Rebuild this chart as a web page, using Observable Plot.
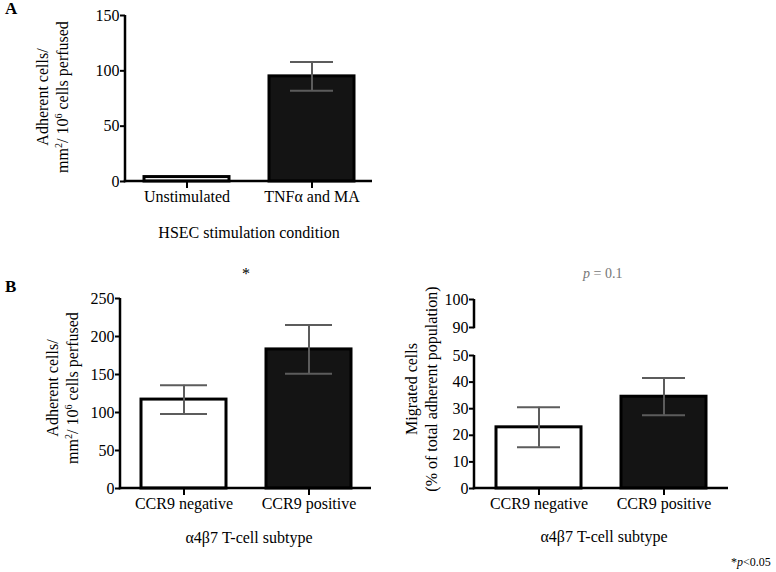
<!DOCTYPE html>
<html><head><meta charset="utf-8">
<script src="https://cdn.jsdelivr.net/npm/d3@7"></script>
<script src="https://cdn.jsdelivr.net/npm/@observablehq/plot@0.6"></script>
<style>
body{margin:0;background:#fff}
#wrap{position:relative;width:776px;height:572px;font-family:"Liberation Serif","Times New Roman",Times,"DejaVu Serif",serif;color:#000;overflow:hidden;background:#fff}
.plot{position:absolute}
.ylab{position:absolute;width:300px;height:40px;text-align:center;font-size:16px;line-height:20px;transform:rotate(-90deg);white-space:nowrap}
.xlab{position:absolute;width:300px;text-align:center;font-size:16px;line-height:20px;white-space:nowrap}
.txt{position:absolute;white-space:nowrap}
sup{font-size:10px;line-height:0;vertical-align:6px}
</style>
</head><body>
<div id="wrap">
  <div class="txt" style="left:5px;top:0px;font-size:17px;font-weight:bold;line-height:18px">A</div>
  <div class="txt" style="left:5px;top:278px;font-size:17px;font-weight:bold;line-height:18px">B</div>
  <div class="ylab" style="left:-97px;top:77px">Adherent cells/<br>mm<sup>2</sup>/ 10<sup>6</sup> cells perfused</div>
  <div class="ylab" style="left:-87px;top:368px">Adherent cells/<br>mm<sup>2</sup>/ 10<sup>6</sup> cells perfused</div>
  <div class="ylab" style="left:272px;top:369px">Migrated cells<br>(% of total adherent population)</div>
  <div class="xlab" style="left:99px;top:223px">HSEC stimulation condition</div>
  <div class="xlab" style="left:99px;top:528px">α4β7 T-cell subtype</div>
  <div class="xlab" style="left:454px;top:527px">α4β7 T-cell subtype</div>
  <div class="txt" style="left:242px;top:265px;font-size:16px">*</div>
  <div class="txt" style="left:583px;top:266px;font-size:14px;color:#777"><i>p</i> = 0.1</div>
  <div class="txt" style="left:731px;top:555px;font-size:12px">*<i>p</i>&lt;0.05</div>
</div>
<script>
// Panel A data
const catsA = ["Unstimulated", "TNFα and MA"];
const meanA = [4, 95];
const semA = [0, 13];
const ticksA = [0, 50, 100, 150];

// Panel B (adhesion) data
const catsB = ["CCR9 negative", "CCR9 positive"];
const meanB1 = [117, 183];
const semB1 = [19, 32];
const ticksB1 = [0, 50, 100, 150, 200, 250];

// Panel B (migration) data
const meanB2 = [23, 34.5];
const semB2 = [7.5, 7];
const ticksB2low = [0, 10, 20, 30, 40, 50];
const ticksB2high = [90, 100];

const barFills = ["#ffffff", "#141414"];
const errColor = "#5c5c5c";
const FONT = '"Liberation Serif","Times New Roman",Times,"DejaVu Serif",serif';
const baseStyle = {fontFamily: FONT, fontSize: "16px", color: "#000", background: "transparent", overflow: "visible"};

// axis lines drawn along the frame edges, from the plot's own dimensions
function axisLines(sides) {
  return (index, scales, values, dims) => {
    const g = d3.create("svg:g").attr("stroke", "#000").attr("stroke-width", 2.5).attr("fill", "none");
    const x0 = dims.marginLeft, x1 = dims.width - dims.marginRight;
    const y0 = dims.marginTop, y1 = dims.height - dims.marginBottom;
    if (sides.includes("left")) g.append("line").attr("x1", x0).attr("x2", x0).attr("y1", y0).attr("y2", y1 + 1.25);
    if (sides.includes("bottom")) g.append("line").attr("x1", x0 - 1.25).attr("x2", x1).attr("y1", y1).attr("y2", y1);
    return g.node();
  };
}

function barPanel(o) {
  const data = o.cats.map((c, i) => ({cat: c, v: o.means[i], sem: o.sems[i], lo: o.means[i] - o.sems[i], hi: o.means[i] + o.sems[i]}));
  const err = data.filter(d => d.sem > 0);
  return Plot.plot({
    width: o.width, height: o.height,
    marginTop: o.mt, marginBottom: o.mb, marginLeft: o.ml, marginRight: o.mr,
    style: baseStyle,
    x: {domain: o.cats, paddingInner: 0.32, paddingOuter: o.po, label: null},
    y: {domain: o.yDomain, label: null},
    color: {domain: o.cats, range: barFills},
    marks: [
      Plot.barY(data, {x: "cat", y: "v", fill: "cat", stroke: "#000", strokeWidth: 3}),
      Plot.ruleX(err, {x: "cat", y1: "lo", y2: "hi", stroke: errColor, strokeWidth: 2}),
      Plot.tickY(err, {x: "cat", y: "lo", stroke: errColor, strokeWidth: 2, insetLeft: o.cap, insetRight: o.cap}),
      Plot.tickY(err, {x: "cat", y: "hi", stroke: errColor, strokeWidth: 2, insetLeft: o.cap, insetRight: o.cap}),
      Plot.axisY({ticks: o.yTicks, tickSize: 5, tickPadding: 1, strokeWidth: 2, label: null, fontSize: 16, fontFamily: FONT}),
      Plot.axisX({tickSize: 7, tickPadding: 2, strokeWidth: 2, label: null, fontSize: 16, fontFamily: FONT}),
      axisLines(["left", "bottom"])
    ]
  });
}

function place(el, left, top) {
  el.classList.add("plot");
  el.style.left = left + "px";
  el.style.top = top + "px";
  document.getElementById("wrap").appendChild(el);
}

place(barPanel({cats: catsA, means: meanA, sems: semA, yDomain: [0, 150], yTicks: ticksA,
  width: 400, height: 215, mt: 15, mb: 34, ml: 125, mr: 28, po: 0.148, cap: 21}), 0, 0);

place(barPanel({cats: catsB, means: meanB1, sems: semB1, yDomain: [0, 250], yTicks: ticksB1,
  width: 400, height: 240, mt: 18, mb: 32, ml: 120, mr: 29, po: 0.164, cap: 19}), 0, 280);

place(barPanel({cats: catsB, means: meanB2, sems: semB2, yDomain: [0, 50], yTicks: ticksB2low,
  width: 396, height: 180, mt: 15, mb: 32, ml: 94, mr: 48, po: 0.176, cap: 21}), 380, 340);

// upper segment of the broken axis
place(Plot.plot({
  width: 396, height: 60, marginTop: 19, marginBottom: 13, marginLeft: 94, marginRight: 48,
  style: baseStyle,
  y: {domain: [90, 100], label: null},
  marks: [
    Plot.axisY({ticks: ticksB2high, tickSize: 5, tickPadding: 1, strokeWidth: 2, label: null, fontSize: 16, fontFamily: FONT}),
    axisLines(["left"])
  ]
}), 380, 280);
</script>
</body></html>
